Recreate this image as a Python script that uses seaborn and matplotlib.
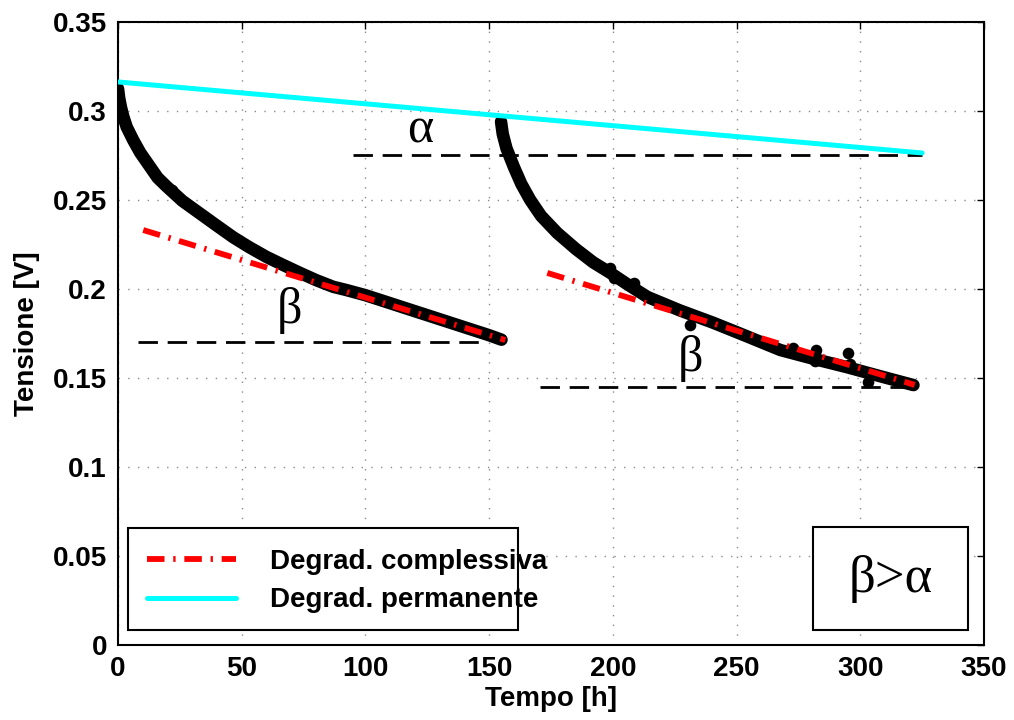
import matplotlib
matplotlib.use("Agg")
import matplotlib.pyplot as plt
from matplotlib.patches import Rectangle
from matplotlib.lines import Line2D
import seaborn as sns

# --- measured voltage, first test run ---
t_run1 = [0, 0.5, 1.2, 2.1, 3.5, 6.1, 9, 12.9, 16, 19.7, 26, 33, 40, 46.6, 53,
          60, 67, 73.6, 80, 87, 92, 100, 110, 120, 130, 140, 150, 155]
v_run1 = [0.3125, 0.307, 0.302, 0.297, 0.291, 0.2837, 0.2765, 0.2687, 0.2625, 0.2575,
          0.2495, 0.2425, 0.2355, 0.229, 0.2235, 0.218, 0.2133, 0.209, 0.205, 0.2012,
          0.1995, 0.1965, 0.192, 0.1875, 0.183, 0.1785, 0.174, 0.1715]

# --- measured voltage, second test run ---
t_run2 = [154.8, 155.5, 157, 160, 163, 166.6, 171, 177.5, 185, 192, 199, 206, 214,
          227, 240.6, 254, 267.7, 281, 294.8, 308, 321.5]
v_run2 = [0.294, 0.287, 0.279, 0.2685, 0.259, 0.25, 0.241, 0.2315, 0.2225, 0.215,
          0.209, 0.2025, 0.1955, 0.188, 0.181, 0.1735, 0.1657, 0.1608, 0.156, 0.151, 0.146]

# isolated noisy samples
t_noise = [21.7, 199, 200.5, 208.5, 231, 273, 281.5, 282, 295, 296, 303]
v_noise = [0.2555, 0.2115, 0.206, 0.2035, 0.1795, 0.167, 0.1595, 0.1655, 0.164, 0.158, 0.1475]

# overall degradation fits (dash-dot)
t_fit1 = [10.2, 156.5]
v_fit1 = [0.2331, 0.1713]
t_fit2 = [173.5, 322]
v_fit2 = [0.209, 0.1461]

# permanent degradation
t_perm = [0, 325]
v_perm = [0.3163, 0.2764]

# horizontal reference levels
ref_alpha_t = [95, 325]
ref_alpha_v = [0.2753, 0.2753]
ref_beta1_t = [8, 148]
ref_beta1_v = [0.1702, 0.1702]
ref_beta2_t = [170.6, 320]
ref_beta2_v = [0.145, 0.145]

x_ticks = [0, 50, 100, 150, 200, 250, 300, 350]
y_ticks = [0, 0.05, 0.1, 0.15, 0.2, 0.25, 0.3, 0.35]
y_tick_labels = ["0", "0.05", "0.1", "0.15", "0.2", "0.25", "0.3", "0.35"]

sns.set_style("white")
plt.rcParams["font.family"] = ["Liberation Sans", "DejaVu Sans"]
plt.rcParams["text.color"] = "black"
plt.rcParams["axes.labelcolor"] = "black"
plt.rcParams["xtick.color"] = "black"
plt.rcParams["ytick.color"] = "black"

fig = plt.figure(figsize=(10.14, 7.2), dpi=100)
ax = fig.add_axes([0.1164, 0.1042, 0.8540, 0.8653])

dash_black = (0, (7, 3.5))
for tt, vv in [(ref_alpha_t, ref_alpha_v), (ref_beta1_t, ref_beta1_v), (ref_beta2_t, ref_beta2_v)]:
    sns.lineplot(x=tt, y=vv, ax=ax, color="black", lw=2.0, linestyle=dash_black,
                 zorder=2, sort=False)

for tt, vv in [(t_run1, v_run1), (t_run2, v_run2)]:
    sns.lineplot(x=tt, y=vv, ax=ax, color="black", lw=9, zorder=3, sort=False,
                 solid_capstyle="round", solid_joinstyle="round")
sns.scatterplot(x=t_noise, y=v_noise, ax=ax, color="black", s=70, linewidth=0, zorder=3)

sns.lineplot(x=t_perm, y=v_perm, ax=ax, color="#00ffff", lw=3.6, zorder=4, sort=False)

dash_dot = (0, (3, 1.5, 0.4, 1.5))
for tt, vv in [(t_fit1, v_fit1), (t_fit2, v_fit2)]:
    sns.lineplot(x=tt, y=vv, ax=ax, color="red", lw=4.2, linestyle=dash_dot,
                 zorder=5, sort=False)

ax.set_xlim(0, 350)
ax.set_ylim(0, 0.35)
ax.set_xticks(x_ticks)
ax.set_xticklabels([str(v) for v in x_ticks])
ax.set_yticks(y_ticks)
ax.set_yticklabels(y_tick_labels)
ax.tick_params(direction="in", top=True, right=True, length=5, width=1,
               labelsize=20, pad=8, colors="black")
for lab in ax.get_xticklabels() + ax.get_yticklabels():
    lab.set_fontweight("bold")
ax.grid(True, color="#8a8a8a", linestyle=(0, (1, 6)), linewidth=1.0)
for sp in ax.spines.values():
    sp.set_color("black")
    sp.set_linewidth(1.5)

ax.set_xlabel("Tempo [h]", fontsize=20, fontweight="bold", labelpad=3)
ax.set_ylabel("Tensione [V]", fontsize=20, fontweight="bold", labelpad=9)

greek = ["Liberation Serif", "DejaVu Serif"]
ax.text(122.1, 0.2893, "α", fontsize=36, family=greek, ha="center", va="center", zorder=6)
ax.text(69.5, 0.188, "β", fontsize=36, family=greek, ha="center", va="center", zorder=6)
ax.text(231.3, 0.161, "β", fontsize=36, family=greek, ha="center", va="center", zorder=6)

# annotation box
ax.add_patch(Rectangle((0.8025, 0.024), 0.1785, 0.165, transform=ax.transAxes,
                       facecolor="white", edgecolor="black", lw=1.5, zorder=7))
ax.text(0.892, 0.106, "β>α", transform=ax.transAxes, fontsize=38, family=greek,
        ha="center", va="center", zorder=8)

# legend
ax.add_patch(Rectangle((0.0115, 0.024), 0.4505, 0.164, transform=ax.transAxes,
                       facecolor="white", edgecolor="black", lw=1.5, zorder=7))
handles = [Line2D([], [], color="red", lw=4.2, linestyle=dash_dot),
           Line2D([], [], color="#00ffff", lw=3.6)]
leg = ax.legend(handles, ["Degrad. complessiva", "Degrad. permanente"],
                loc="center left", bbox_to_anchor=(0.034, 0.1027), frameon=False,
                borderpad=0, borderaxespad=0, handlelength=3.2, handletextpad=1.2,
                labelspacing=0.45, prop={"size": 20, "weight": "bold"})
leg.set_zorder(8)

fig.savefig("out.png", dpi=100, facecolor="white")
